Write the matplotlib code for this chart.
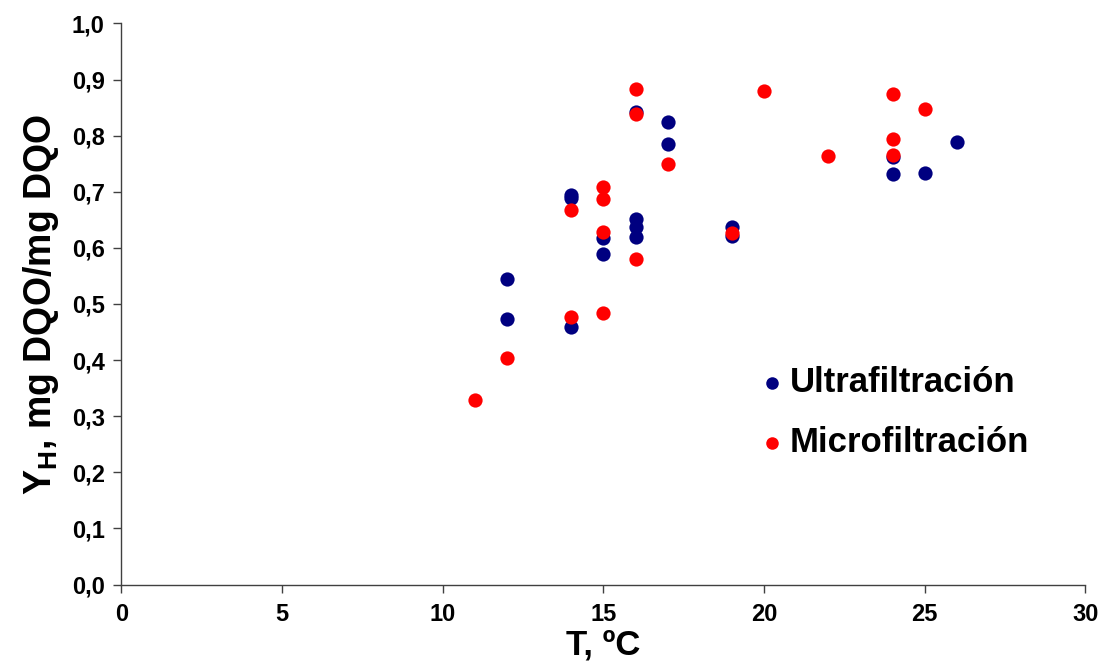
import matplotlib
matplotlib.use("Agg")
import matplotlib.pyplot as plt

plt.rcParams['font.family'] = ['Liberation Sans', 'DejaVu Sans']
plt.rcParams['font.weight'] = 'bold'
plt.rcParams['mathtext.fontset'] = 'custom'
plt.rcParams['mathtext.rm'] = 'Liberation Sans:bold'
plt.rcParams['mathtext.it'] = 'Liberation Sans:bold'
plt.rcParams['mathtext.bf'] = 'Liberation Sans:bold'

# Ultrafiltracion
t_uf = [12, 12, 14, 14, 14, 15, 15, 16, 16, 16, 16, 17, 17, 19, 19, 24, 24, 25, 26]
y_uf = [0.544, 0.473, 0.694, 0.689, 0.459, 0.617, 0.589, 0.842, 0.651, 0.637, 0.619,
        0.824, 0.785, 0.637, 0.622, 0.762, 0.731, 0.733, 0.788]

# Microfiltracion
t_mf = [11, 12, 14, 14, 15, 15, 15, 15, 16, 16, 16, 17, 19, 20, 22, 24, 24, 24, 25]
y_mf = [0.329, 0.404, 0.667, 0.477, 0.708, 0.687, 0.628, 0.484, 0.883, 0.838, 0.581,
        0.749, 0.626, 0.879, 0.763, 0.874, 0.794, 0.765, 0.847]

xticks = [0, 5, 10, 15, 20, 25, 30]
yticks = [0.0, 0.1, 0.2, 0.3, 0.4, 0.5, 0.6, 0.7, 0.8, 0.9, 1.0]

fig = plt.figure(figsize=(11.02, 6.64), dpi=100)
ax = fig.add_axes([0.1102, 0.1197, 0.8748, 0.845])

ax.scatter(t_uf, y_uf, s=105, color='#000080', linewidths=0, label='Ultrafiltración', zorder=3)
ax.scatter(t_mf, y_mf, s=105, color='#ff0000', linewidths=0, label='Microfiltración', zorder=4)

ax.set_xlim(0, 30)
ax.set_ylim(0, 1.0)
ax.set_xticks(xticks)
ax.set_xticklabels([str(v) for v in xticks])
ax.set_yticks(yticks)
ax.set_yticklabels([f"{v:.1f}".replace('.', ',') for v in yticks])
ax.tick_params(direction='out', length=6, width=1, labelsize=17, colors='#404040',
               labelcolor='black')
ax.tick_params(axis='x', pad=7)
ax.tick_params(axis='y', pad=6)
for lab in ax.get_xticklabels() + ax.get_yticklabels():
    lab.set_fontweight('bold')

for side in ['top', 'right']:
    ax.spines[side].set_visible(False)
for side in ['left', 'bottom']:
    ax.spines[side].set_color('#404040')
    ax.spines[side].set_linewidth(1)

ax.set_xlabel('T, ºC', fontsize=25, fontweight='bold', labelpad=2)
ax.set_ylabel(r'Y$_{\mathrm{H}}$, mg DQO/mg DQO', fontsize=27, fontweight='bold', labelpad=8)

leg = ax.legend(loc='upper left', bbox_to_anchor=(0.6656, 0.39), frameon=False,
                borderpad=0, borderaxespad=0, handlelength=0.5, handletextpad=0.27,
                labelspacing=0.79, markerscale=0.88,
                prop={'weight': 'bold', 'size': 25})

fig.savefig('out.png', dpi=100, facecolor='white')
